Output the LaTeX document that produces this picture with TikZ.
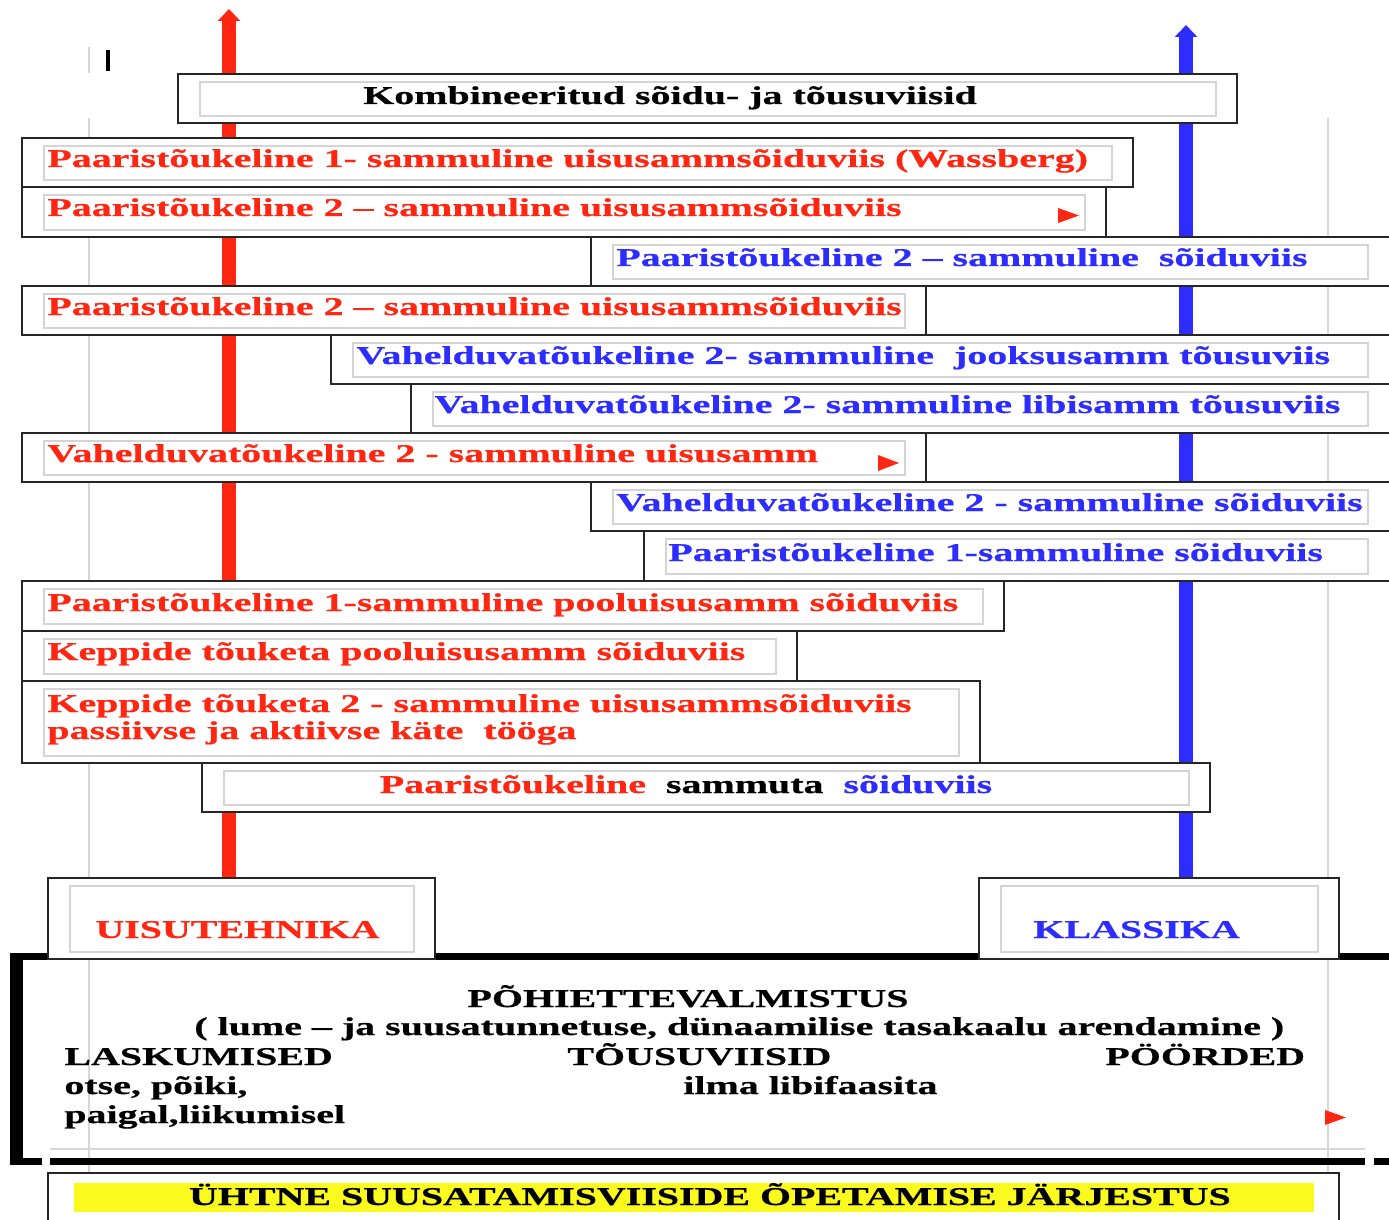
\documentclass[tikz,border=0pt]{standalone}
\usepackage{fontspec}
\setmainfont{Liberation Serif}[FakeStretch=1.56, FakeBold=0.6]
\usetikzlibrary{arrows.meta,positioning}
\definecolor{skired}{RGB}{255,38,18}
\definecolor{skiblue}{RGB}{45,45,255}
\definecolor{framegray}{RGB}{212,212,212}
\definecolor{guidegray}{RGB}{215,215,215}
\definecolor{markyellow}{RGB}{250,250,30}

\begin{document}
\begin{tikzpicture}[x=0.5pt, y=-0.5pt,
  outer/.style={draw=black!85, line width=1.1pt, fill=white},
  inner/.style={draw=framegray, line width=1pt},
  guide/.style={draw=guidegray, line width=1pt},
  txt/.style={anchor=base west, inner sep=0pt, text=#1,
              font=\bfseries\fontsize{12.8}{15.5}\selectfont},
  txt/.default=skired,
  wide/.style={txt=#1},
  wide/.default=black,
  trunk/.style={line width=7pt, -{Triangle[length=6pt, width=11pt]}},
  pointer/.style={fill=skired}]
\useasboundingbox (0,0) rectangle (1389,1220);
\clip (0,0) rectangle (1389,1220);

% grey guides and cursor mark
\draw[guide] (89,47) -- (89,73);
\draw[guide] (89,118) -- (89,1220);
\draw[guide] (1328,118) -- (1328,1220);
\draw[line width=2pt] (108,50) -- (108,71);

% the two trunks
\coordinate (redtop) at (229,9);
\coordinate (redfoot) at (229,880);
\coordinate (bluetop) at (1186,25);
\coordinate (bluefoot) at (1186,880);
\draw[trunk, skired] (redfoot) -- (redtop);
\draw[trunk, skiblue] (bluefoot) -- (bluetop);

% heavy frame of the base block
\fill (10,953) rectangle (1400,960);
\fill (10,953) rectangle (23,1165);
\fill (10,1158) rectangle (42,1165);
\fill (50,1158) rectangle (1365,1165);
\fill (1374,1158) rectangle (1400,1165);
\draw[guide] (50,1149) -- (1365,1149);

% boxes: outer black, inner grey
\foreach \xa/\ya/\xb/\yb in {178/74/1237/123, 22/138/1133/187, 22/187/1106/237,
    591/237/1400/286, 22/286/926/335, 331/335/1400/384, 411/384/1400/433,
    22/433/926/482, 591/482/1400/531, 644/531/1400/581, 22/581/1004/631,
    22/631/797/681, 22/681/980/763, 202/763/1210/812,
    48/878/435/959, 979/878/1339/959} {
  \pgfmathsetmacro\xi{min(\xb-21,1368)}
  \draw[outer] (\xa,\ya) rectangle (\xb,\yb);
  \draw[inner] (\xa+22,\ya+8) rectangle (\xi,\yb-7);
}
\draw[outer] (48,1173) rectangle (1339,1240);
\fill[markyellow] (74,1183) rectangle (1314,1212);

% row texts
\node[wide, anchor=base] (kombi) at (670,104) {Kombineeritud sõidu- ja tõusuviisid};
\node[txt] (wass) at (47,167) {Paaristõukeline 1- sammuline uisusammsõiduviis (Wassberg)};
\node[txt] (uisuA) at (47,216) {Paaristõukeline 2 – sammuline uisusammsõiduviis};
\node[txt=skiblue] (soitA) at (616,266) {Paaristõukeline 2 – sammuline~ sõiduviis};
\node[txt] (uisuB) at (47,315) {Paaristõukeline 2 – sammuline uisusammsõiduviis};
\node[txt=skiblue] (jooks) at (356,364) {Vahelduvatõukeline 2- sammuline~ jooksusamm tõusuviis};
\node[txt=skiblue] (libi) at (434,413) {Vahelduvatõukeline 2- sammuline libisamm tõusuviis};
\node[txt] (vahU) at (47,462) {Vahelduvatõukeline 2 - sammuline uisusamm};
\node[txt=skiblue] (vahS) at (616,511) {Vahelduvatõukeline 2 - sammuline sõiduviis};
\node[txt=skiblue] (paar1) at (668,561) {Paaristõukeline 1-sammuline sõiduviis};
\node[txt] (pool1) at (47,611) {Paaristõukeline 1-sammuline pooluisusamm sõiduviis};
\node[txt] (kepP) at (47,660) {Keppide tõuketa pooluisusamm sõiduviis};
\node[txt] (kep2) at (47,712) {Keppide tõuketa 2 - sammuline uisusammsõiduviis};
\node[txt] (kep2b) at (47,739) {passiivse ja aktiivse käte~ tööga};
\node[txt, anchor=base] (sammuta) at (686,793)
  {Paaristõukeline~ \textcolor{black}{sammuta}~ \textcolor{skiblue}{sõiduviis}};

% pointers
\fill[pointer] (1058,208) -- (1079,215.5) -- (1058,223) -- cycle;
\fill[pointer] (878,455) -- (899,463) -- (878,471) -- cycle;
\fill[pointer] (1325,1110) -- (1346,1117.5) -- (1325,1125) -- cycle;

% technique boxes
\node[wide=skired] (uisu) at (95,938) {UISUTEHNIKA};
\node[wide=skiblue] (klass) at (1033,938) {KLASSIKA};

% base block
\node[wide, anchor=base] (pohi) at (688,1007) {PÕHIETTEVALMISTUS};
\node[wide] (lume) at (194,1035) {( lume – ja suusatunnetuse, dünaamilise tasakaalu arendamine )};
\node[wide] (lask) at (64,1065) {LASKUMISED};
\node[wide] (tous) at (567,1065) {TÕUSUVIISID};
\node[wide] (poor) at (1105,1065) {PÖÖRDED};
\node[wide] (otse) at (64,1094) {otse, põiki,};
\node[wide] (ilma) at (683,1094) {ilma libifaasita};
\node[wide] (paig) at (64,1123) {paigal,liikumisel};
\node[wide, anchor=base] (yhtne) at (710,1205) {ÜHTNE SUUSATAMISVIISIDE ÕPETAMISE JÄRJESTUS};
\end{tikzpicture}
\end{document}
